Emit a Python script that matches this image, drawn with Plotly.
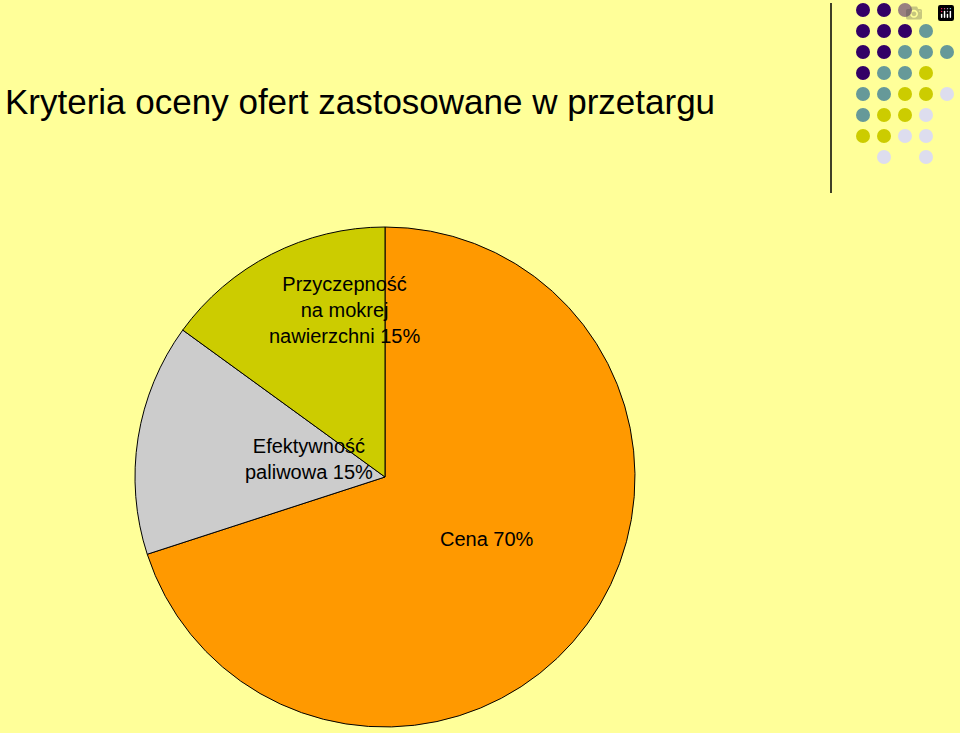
import plotly.graph_objects as go

labels = ["Cena", "Efektywność paliwowa", "Przyczepność na mokrej nawierzchni"]
values = [70, 15, 15]
colors = ["#FF9900", "#CCCCCC", "#CCCC00"]
label_texts = ["Cena 70%", "Efektywność<br>paliwowa 15%", "Przyczepność<br>na mokrej<br>nawierzchni 15%"]
label_pos = [(487, 552), (243, 459), (267, 310)]

W, H = 960, 733
fig = go.Figure(go.Pie(
    labels=labels, values=values, sort=False, direction="clockwise", rotation=0,
    marker=dict(colors=colors, line=dict(color="black", width=1)),
    textinfo="none", hoverinfo="label+percent", showlegend=False,
    domain=dict(x=[135/W, 635/W], y=[1-727/H, 1-227/H]),
))

for t, (x, y) in zip(label_texts, label_pos):
    fig.add_annotation(x=x/W, y=1-y/H, xref="paper", yref="paper", text=t, showarrow=False,
                       font=dict(family="Liberation Sans, Arial", size=20, color="black"))

fig.add_annotation(x=3/W, y=1-80/H, xref="paper", yref="paper", xanchor="left",
                   text="Kryteria oceny ofert zastosowane w przetargu", showarrow=False,
                   font=dict(family="Liberation Sans, Arial", size=35, color="black"))

P, T, Y, L = "#330066", "#669999", "#CCCC00", "#DDDDEE"
xs = [863, 884, 905, 926, 947]
rows = [
    [P, P, P, None, None],
    [P, P, P, T, None],
    [P, P, T, T, T],
    [P, T, T, Y, None],
    [T, T, Y, Y, L],
    [T, Y, Y, L, None],
    [Y, Y, L, L, None],
    [None, L, None, L, None],
]
shapes = []
for r, row in enumerate(rows):
    cy = 10 + 21 * r
    for c, col in enumerate(row):
        if col:
            cx = xs[c]
            shapes.append(dict(type="circle", xref="paper", yref="paper",
                               x0=(cx-7)/W, x1=(cx+7)/W, y0=1-(cy+7)/H, y1=1-(cy-7)/H,
                               fillcolor=col, line=dict(width=0)))
shapes.append(dict(type="line", xref="paper", yref="paper", x0=831/W, x1=831/W,
                   y0=1-193/H, y1=1-3/H, line=dict(color="black", width=1.5)))

fig.update_layout(width=W, height=H, margin=dict(l=0, r=0, t=0, b=0),
                  paper_bgcolor="#FFFF99", plot_bgcolor="#FFFF99", shapes=shapes)
fig.write_html("out.html", post_script="document.body.style.margin='0';document.body.style.overflow='hidden';")
